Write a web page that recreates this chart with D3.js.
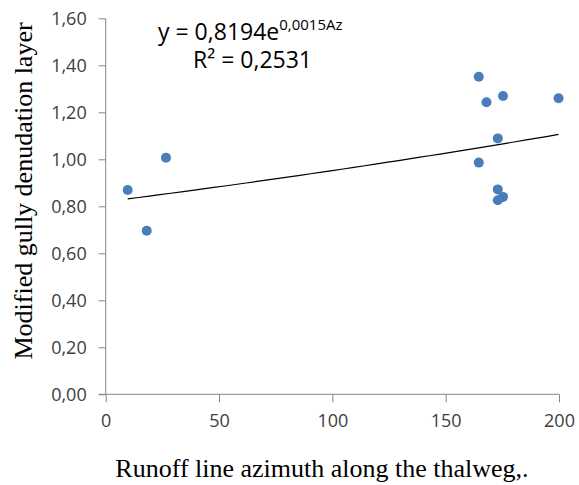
<!DOCTYPE html>
<html>
<head>
<meta charset="utf-8">
<script src="https://cdn.jsdelivr.net/npm/d3@7"></script>
<style>
  body { margin: 0; background: #fff; }
  svg { display: block; }
</style>
</head>
<body>
<svg id="vis" width="579" height="485"></svg>
<script>
// data
var azimuth = [9.7, 26.6, 18.1, 164.6, 175.3, 168.0, 199.8, 173.0, 164.6, 173.0, 175.3, 173.0];
var denudation = [0.869, 1.007, 0.696, 1.351, 1.269, 1.243, 1.260, 1.089, 0.986, 0.872, 0.840, 0.826];
var xTicks = [0, 50, 100, 150, 200];
var yTicks = [0, 0.2, 0.4, 0.6, 0.8, 1.0, 1.2, 1.4, 1.6];
// exponential trend shown on chart: y = a * e^(b*Az)
var trendA = 0.8194;
var trendB = 0.0015;

var svg = d3.select('#vis');
var width = 579, height = 485;
var margin = {left: 105.7, top: 18.3, right: 20, bottom: 90.7};

var x = d3.scaleLinear().domain([0, 200]).range([margin.left, width - margin.right]);
var y = d3.scaleLinear().domain([0, 1.6]).range([height - margin.bottom, margin.top]);

var comma = function(d){ return d3.format('.2f')(d).replace('.', ','); };
var axisColor = '#868686';

// y axis
var yAxis = svg.append('g')
    .attr('transform', 'translate(' + margin.left + ',0)')
    .call(d3.axisLeft(y).tickValues(yTicks).tickSize(7).tickPadding(12).tickFormat(comma));

// x axis
var xAxis = svg.append('g')
    .attr('transform', 'translate(0,' + y(0) + ')')
    .call(d3.axisBottom(x).tickValues(xTicks).tickSize(8).tickPadding(12).tickSizeOuter(0));

[yAxis, xAxis].forEach(function(g){
    g.select('.domain').attr('stroke', axisColor);
    g.selectAll('.tick line').attr('stroke', axisColor);
    g.selectAll('.tick text')
        .attr('fill', '#404040')
        .style('font-family', '"Open Sans", sans-serif')
        .style('font-size', '18px');
});
yAxis.select('.domain').attr('d', 'M0,' + y(1.6) + 'V' + y(0));
// x axis line reaches past the y axis like the original
xAxis.select('.domain').attr('d', 'M' + (margin.left - 7) + ',0H' + x(200));

// trend line
var xMin = d3.min(azimuth), xMax = d3.max(azimuth);
var trendPts = d3.range(0, 41).map(function(i){
    var v = xMin + (xMax - xMin) * i / 40;
    return [v, trendA * Math.exp(trendB * v)];
});
svg.append('path')
    .datum(trendPts)
    .attr('fill', 'none')
    .attr('stroke', '#000')
    .attr('stroke-width', 1.2)
    .attr('d', d3.line().x(function(d){ return x(d[0]); }).y(function(d){ return y(d[1]); }));

// points
svg.selectAll('.dot')
    .data(azimuth)
    .enter()
    .append('circle')
    .attr('class', 'dot')
    .attr('cx', function(d){ return x(d); })
    .attr('cy', function(d, i){ return y(denudation[i]); })
    .attr('r', 5)
    .attr('fill', '#4a7ebb');

// equation
var eq = svg.append('text')
    .attr('x', 158)
    .attr('y', 40)
    .attr('fill', '#000')
    .style('font-family', '"Open Sans", sans-serif')
    .style('font-size', '23px');
eq.append('tspan').text('y = 0,8194e');
eq.append('tspan').attr('dy', -10).style('font-size', '15px').text('0,0015Az');

svg.append('text')
    .attr('x', 193)
    .attr('y', 68)
    .attr('fill', '#000')
    .style('font-family', '"Open Sans", sans-serif')
    .style('font-size', '23px')
    .text('R² = 0,2531');

// axis titles
svg.append('text')
    .attr('x', 322)
    .attr('y', 477)
    .attr('text-anchor', 'middle')
    .style('font-family', '"Liberation Serif", "Times New Roman", serif')
    .style('font-size', '26px')
    .text('Runoff line azimuth along the thalweg,.');

svg.append('text')
    .attr('transform', 'translate(32,191) rotate(-90)')
    .attr('text-anchor', 'middle')
    .style('font-family', '"Liberation Serif", "Times New Roman", serif')
    .style('font-size', '26px')
    .text('Modified gully denudation layer');
</script>
</body>
</html>
